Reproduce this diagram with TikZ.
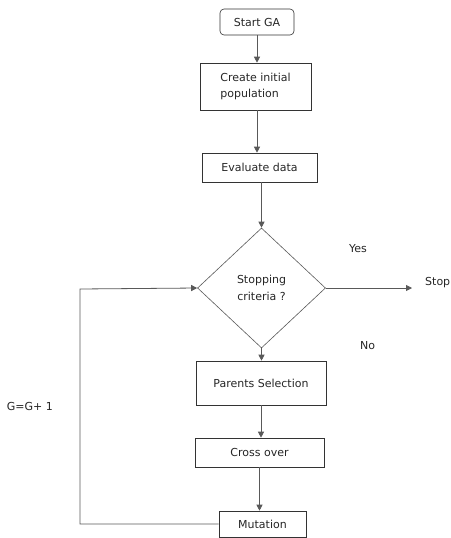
\documentclass[tikz,border=0pt]{standalone}
\usepackage{fontspec}
\setmainfont{DejaVu Sans}
\usetikzlibrary{arrows.meta,shapes.geometric}
\begin{document}
\begin{tikzpicture}[x=1pt,y=-1pt,
  every node/.style={font=\fontsize{11}{16.5}\selectfont, text=black!85},
  box/.style={draw=black!80, line width=0.6pt, inner sep=0pt, align=center},
  conn/.style={draw=black!65, line width=0.8pt, -{Triangle[length=6pt,width=6pt]}},
  plain/.style={draw=black!65, line width=0.8pt}]
\useasboundingbox (0,0) rectangle (450,538);
\fill[white] (0,0) rectangle (450,538);
\node[box, rounded corners=4pt, minimum width=74pt, minimum height=26pt] (start) at (257,22) {Start GA};
\node[box, minimum width=111pt, minimum height=47pt, align=left] (create) at (255.5,86.5) {Create initial\\population};
\node[box, minimum width=115pt, minimum height=29pt] (eval) at (259.5,167.5) {Evaluate data};
\node[draw=black!65, line width=0.6pt, diamond, aspect=1.05, minimum width=128pt, minimum height=120pt, inner sep=0pt, align=center] (stop) at (261.5,288) {Stopping\\criteria ?};
\node[box, minimum width=130pt, minimum height=44pt] (par) at (261,383) {Parents Selection};
\node[box, minimum width=129pt, minimum height=29pt] (cross) at (259.5,452.5) {Cross over};
\node[box, minimum width=87pt, minimum height=26pt] (mut) at (262.5,524) {Mutation};
\node[anchor=west, inner sep=0pt] (stoptxt) at (425,283) {Stop};
\coordinate (stopend) at (412,288);
\node[anchor=west, inner sep=0pt] (yes) at (349,249) {Yes};
\node[anchor=west, inner sep=0pt] (no) at (360,346) {No};
\node[anchor=east, inner sep=0pt] (g) at (53,406) {G=G+ 1};
\coordinate (lb) at (80,525);
\coordinate (lt) at (80,289);
\coordinate (c1) at (257,0);
\draw[conn] (start.south -| c1) -- (create.north -| c1);
\draw[conn] (create.south -| c1) -- (eval.north -| c1);
\draw[conn] (eval.south -| stop.north) -- (stop.north);
\draw[conn] (stop.east) -- (stopend);
\draw[conn] (stop.south) -- (stop.south |- par.north);
\draw[conn] (par.south) -- (par.south |- cross.north);
\draw[conn] (cross.south) -- (cross.south |- mut.north);
\draw[conn] (mut.west) -- (mut.west -| lb) -- (lt) -- (stop.west);
\end{tikzpicture}
\end{document}
